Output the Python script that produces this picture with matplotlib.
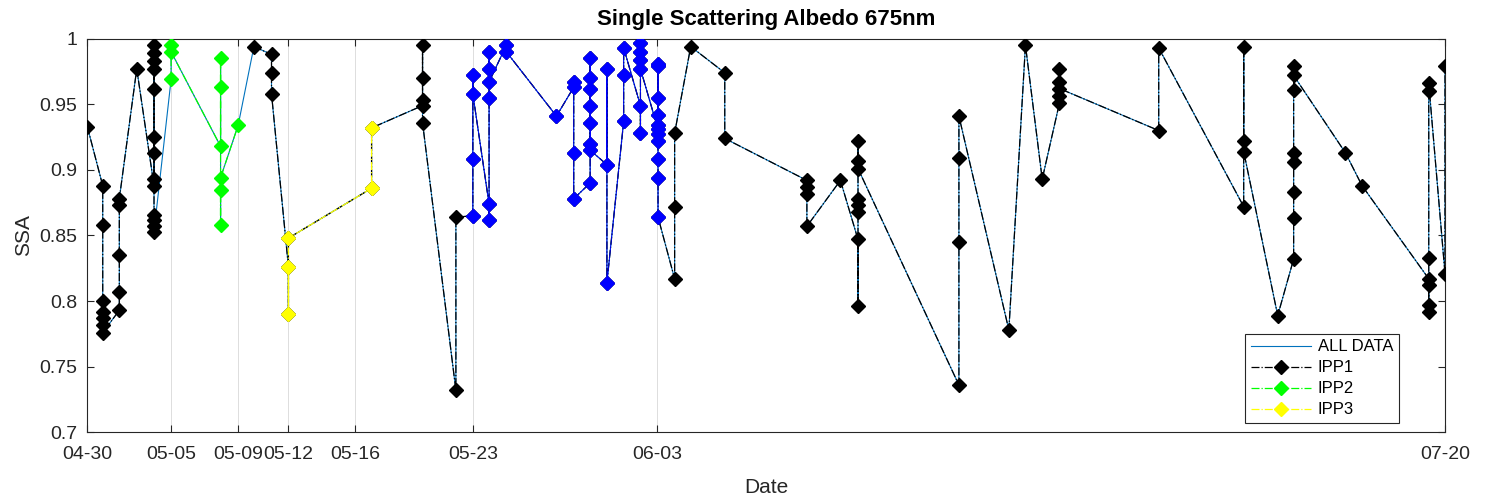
import matplotlib.pyplot as plt
import numpy as np

plt.rcParams['font.family'] = ['Liberation Sans', 'DejaVu Sans']

# retrieval days (days after 04-30); several retrievals can share a day
obs_days = [0.0, 0.92, 1.91, 2.95, 3.98, 5.0, 7.95, 9.0, 9.94, 10.99,
            12.0, 16.96, 20.0, 21.99, 23.0, 23.97, 25.0, 27.99, 29.02, 30.0,
            31.0, 32.0, 33.0, 34.05, 35.04, 36.0, 38.03, 42.93, 44.93, 45.98,
            52.0, 54.98, 55.97, 56.97, 58.0, 63.92, 68.99, 71.02, 71.97, 75.06,
            76.05, 80.03, 81.0]

# SSA at 675 nm for each day, in acquisition order
obs_ssa = [
    [0.933],
    [0.888, 0.858, 0.800, 0.792, 0.787, 0.782, 0.776],
    [0.793, 0.807, 0.835, 0.873, 0.878],
    [0.977],
    [0.888, 0.893, 0.913, 0.925, 0.962, 0.977, 0.983, 0.989, 0.995, 0.866, 0.862, 0.857, 0.853],
    [0.969, 0.995, 0.990],
    [0.918, 0.985, 0.963, 0.858, 0.885, 0.894],
    [0.934],
    [0.994],
    [0.988, 0.974, 0.958],
    [0.826, 0.790, 0.848],
    [0.886, 0.932],
    [0.949, 0.953, 0.970, 0.995, 0.936],
    [0.732, 0.864],
    [0.865, 0.908, 0.972, 0.958],
    [0.874, 0.862, 0.955, 0.977, 0.990, 0.967],
    [0.995, 0.990],
    [0.941],
    [0.963, 0.967, 0.913, 0.878],
    [0.890, 0.949, 0.962, 0.970, 0.985, 0.936, 0.920, 0.915],
    [0.904, 0.977, 0.814],
    [0.937, 0.972, 0.993],
    [0.949, 0.928, 0.997, 0.990, 0.984, 0.977],
    [0.931, 0.927, 0.922, 0.934, 0.942, 0.955, 0.979, 0.981, 0.908, 0.894, 0.864],
    [0.817, 0.872, 0.928],
    [0.994],
    [0.974, 0.924],
    [0.892, 0.887, 0.882, 0.857],
    [0.892],
    [0.847, 0.796, 0.868, 0.873, 0.878, 0.922, 0.907, 0.901],
    [0.736, 0.845, 0.909, 0.941],
    [0.778],
    [0.995],
    [0.893],
    [0.951, 0.956, 0.977, 0.967, 0.962],
    [0.930, 0.993],
    [0.872, 0.994, 0.922, 0.914],
    [0.789],
    [0.832, 0.863, 0.883, 0.906, 0.913, 0.961, 0.979, 0.972],
    [0.913],
    [0.888],
    [0.817, 0.812, 0.797, 0.792, 0.833, 0.960, 0.966],
    [0.821, 0.979],
]

# period of each day: 1 = IPP1, 2 = IPP2, 3 = IPP3, 4 = intensive days
obs_period = [1, 1, 1, 1, 1, 2, 2, 2, 1, 1,
              3, 3, 1, 1, 4, 4, 4, 4, 4, 4,
              4, 4, 4, 4, 1, 1, 1, 1, 1, 1,
              1, 1, 1, 1, 1, 1, 1, 1, 1, 1,
              1, 1, 1]

tick_days = [0, 5, 9, 12, 16, 23, 34, 81]
tick_labels = ['04-30', '05-05', '05-09', '05-12', '05-16', '05-23', '06-03', '07-20']

counts = [len(v) for v in obs_ssa]
x = np.repeat(obs_days, counts)
y = np.concatenate(obs_ssa)
p = np.repeat(obs_period, counts)

fig = plt.figure(figsize=(14.88, 4.99), dpi=100)
ax = fig.add_axes([87.3 / 1488, 66.7 / 499, 1357.7 / 1488, 393.6 / 499])

ms = 7.4
ax.plot(x, y, '-', color='#0072BD', lw=0.8, label='ALL DATA', zorder=2)

y1 = np.where(p == 2, np.nan, y)
ax.plot(x, y1, '-.', color='k', lw=0.9, marker='D', ms=ms, mfc='k', mec='k',
        label='IPP1', zorder=3)

m2 = p == 2
ax.plot(x[m2], y[m2], '-.', color=(0, 1, 0), lw=0.9, marker='D', ms=ms,
        mfc=(0, 1, 0), mec=(0, 1, 0), label='IPP2', zorder=4)

m3 = p == 3
ax.plot(x[m3], y[m3], '-.', color=(1, 1, 0), lw=0.9, marker='D', ms=ms,
        mfc=(1, 1, 0), mec=(1, 1, 0), label='IPP3', zorder=4)

m4 = p == 4
ax.plot(x[m4], y[m4], '-', color=(0, 0, 1), lw=0.6, marker='D', ms=ms,
        mfc=(0, 0, 1), mec=(0, 0, 1), zorder=4)

ax.set_xlim(0, 81)
ax.set_ylim(0.7, 1.0)
ax.set_xticks(tick_days)
ax.set_xticklabels(tick_labels)
ax.set_yticks([0.7, 0.75, 0.8, 0.85, 0.9, 0.95, 1.0])
ax.set_yticklabels(['0.7', '0.75', '0.8', '0.85', '0.9', '0.95', '1'])
ax.grid(axis='x', color='#dddddd', lw=0.7)
ax.set_axisbelow(True)

ax.tick_params(direction='in', length=5, width=0.8, top=True, right=True,
               labelsize=14, colors='#262626')
ax.tick_params(axis='x', pad=10)
ax.tick_params(axis='y', pad=7)
for s in ax.spines.values():
    s.set_color('#262626')
    s.set_linewidth(0.8)

ax.set_title('Single Scattering Albedo 675nm', fontsize=16, fontweight='bold', pad=10)
ax.set_xlabel('Date', fontsize=15, color='#262626', labelpad=11)
ax.set_ylabel('SSA', fontsize=15, color='#262626', labelpad=5)

leg = ax.legend(loc='lower right', bbox_to_anchor=(0.966, 0.023), fontsize=12,
                handlelength=3.6, labelspacing=0.36, borderpad=0.35,
                handletextpad=0.4, fancybox=False, framealpha=1, borderaxespad=0)
leg.get_frame().set_edgecolor('#262626')
leg.get_frame().set_linewidth(0.8)

fig.savefig('out.png', dpi=100)
